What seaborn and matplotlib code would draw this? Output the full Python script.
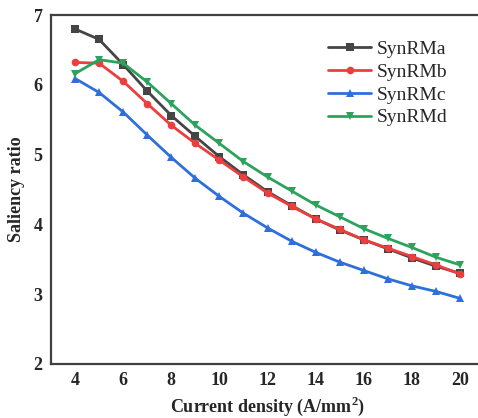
import matplotlib
matplotlib.use("Agg")
import matplotlib.pyplot as plt
import seaborn as sns
import pandas as pd

current = [4, 5, 6, 7, 8, 9, 10, 11, 12, 13, 14, 15, 16, 17, 18, 19, 20]
synrma = [6.80, 6.65, 6.29, 5.91, 5.56, 5.26, 4.97, 4.71, 4.47, 4.27, 4.08, 3.92, 3.78, 3.65, 3.52, 3.40, 3.30]
synrmb = [6.32, 6.31, 6.05, 5.73, 5.42, 5.16, 4.92, 4.68, 4.45, 4.26, 4.08, 3.93, 3.78, 3.66, 3.54, 3.42, 3.29]
synrmc = [6.09, 5.89, 5.61, 5.28, 4.96, 4.66, 4.40, 4.16, 3.95, 3.76, 3.60, 3.46, 3.34, 3.22, 3.12, 3.04, 2.94]
synrmd = [6.16, 6.36, 6.31, 6.04, 5.73, 5.42, 5.16, 4.90, 4.68, 4.48, 4.28, 4.11, 3.94, 3.80, 3.67, 3.53, 3.42]
series_names = ["SynRMa", "SynRMb", "SynRMc", "SynRMd"]
xticks = [4, 6, 8, 10, 12, 14, 16, 18, 20]
yticks = [2, 3, 4, 5, 6, 7]

rows = []
for name, vals in zip(series_names, [synrma, synrmb, synrmc, synrmd]):
    for x, y in zip(current, vals):
        rows.append({"Current": x, "Saliency": y, "Motor": name})
df = pd.DataFrame(rows)

sns.set_style("white")
plt.rcParams["font.family"] = ["Liberation Serif", "DejaVu Serif"]
plt.rcParams["mathtext.fontset"] = "custom"
plt.rcParams["mathtext.rm"] = "Liberation Serif:bold"
plt.rcParams["mathtext.bf"] = "Liberation Serif:bold"

palette = {"SynRMa": "#454545", "SynRMb": "#ec3f3d", "SynRMc": "#2f6fdc", "SynRMd": "#2ba35c"}
markers = {"SynRMa": "s", "SynRMb": "o", "SynRMc": "^", "SynRMd": "v"}

fig = plt.figure(figsize=(4.78, 4.18), dpi=100)
ax = fig.add_axes([51 / 478, 1 - 364 / 418, 433 / 478, (364 - 15) / 418])

sns.lineplot(data=df, x="Current", y="Saliency", hue="Motor", style="Motor",
             palette=palette, markers=markers, dashes=False, linewidth=2,
             markersize=5.5, markeredgewidth=0, ax=ax)

ax.set_xlim(3, 21)
ax.set_ylim(2, 7)
ax.set_xticks(xticks)
ax.set_yticks(yticks)
ax.tick_params(direction="in", length=5, width=1.3, color="#404040",
               labelsize=13, pad=6)
for lab in ax.get_xticklabels() + ax.get_yticklabels():
    lab.set_fontweight("bold")
for sp in ax.spines.values():
    sp.set_linewidth(1.6)
    sp.set_color("#404040")

ax.set_xlabel("Current density (A/mm$^\\mathbf{2}$)", fontsize=13, fontweight="bold", labelpad=4)
ax.set_ylabel("Saliency ratio", fontsize=13, fontweight="bold", labelpad=6)

leg = ax.legend(loc="upper left", bbox_to_anchor=(0.60, 0.978), frameon=False,
                fontsize=14, handlelength=2.2, handletextpad=0.3, labelspacing=0.27)
for h in leg.legend_handles:
    h.set_linewidth(2)

fig.savefig("out.png", dpi=100)
